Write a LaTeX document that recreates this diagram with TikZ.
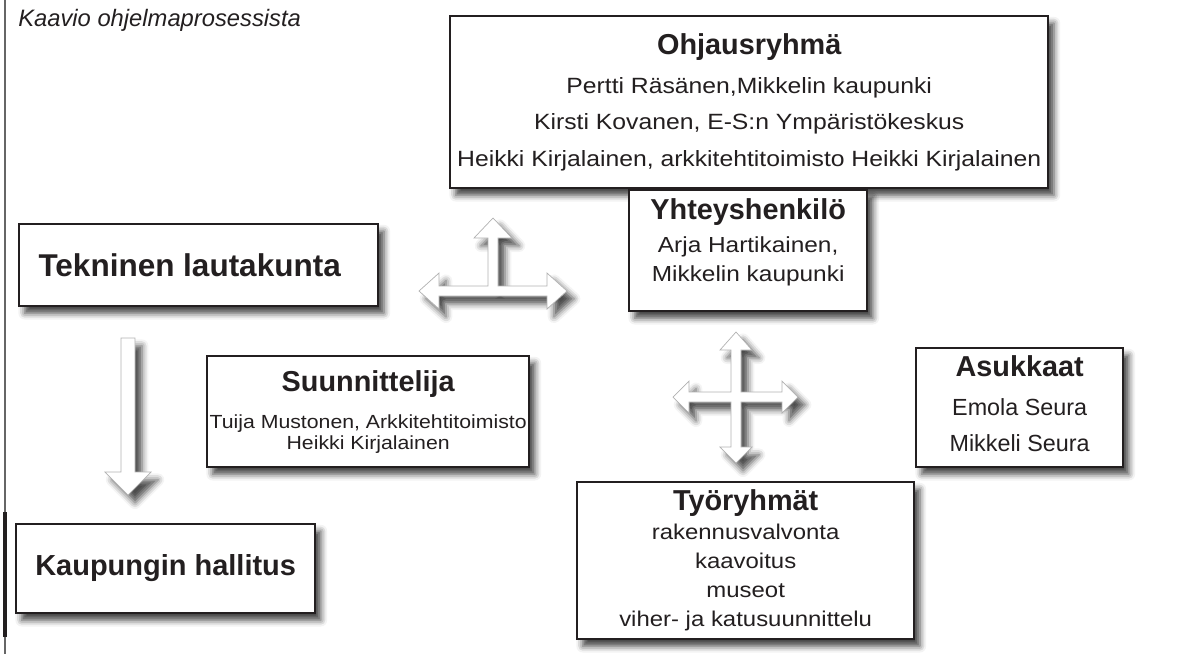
\documentclass[tikz,border=0pt]{standalone}
\usepackage{fontspec}
\setmainfont{Liberation Sans}
\newfontfamily\bodyfont{Liberation Sans}[FakeStretch=1.12]
\usetikzlibrary{shadows.blur}
\definecolor{InkGray}{RGB}{35,31,32}
\newcommand\boxtitle[1]{{\normalfont\bfseries\fontsize{20.5}{24}\selectfont #1}}
\tikzset{
  box/.style={draw=InkGray,line width=1.6pt,fill=white,anchor=north west,inner sep=0pt,
    align=center,text=InkGray,
    blur shadow={shadow xshift=4pt,shadow yshift=-5pt,shadow blur radius=4.5pt,shadow opacity=75}},
  blockarrow/.style={draw=black!30,line width=0.5pt,fill=white,
    blur shadow={shadow xshift=5pt,shadow yshift=-5.5pt,shadow blur radius=4.5pt,shadow opacity=70}},
}

\begin{document}
\begin{tikzpicture}[x=0.025cm,y=-0.025cm]
\useasboundingbox (0,0) rectangle (1198,654);
\draw[black!60,line width=1pt] (5,0) -- (5,654);
\draw[InkGray,line width=2.4pt] (5,512) -- (5,637);
\node[anchor=base west,inner sep=0pt,text=InkGray,font=\itshape\fontsize{16.9}{20}\selectfont] (cap) at (18,26) {Kaavio ohjelmaprosessista};

\draw[blockarrow,shift={(128,338)}] (-7,0) -- (7,0) -- (7,134) -- (23,134) -- (0,157)
  -- (-23,134) -- (-7,134) -- cycle;
\draw[blockarrow,shift={(493,291)}] (-74,0) -- (-54,-18) -- (-54,-5) -- (-5,-5) -- (-5,-53)
  -- (-19,-53) -- (0,-73) -- (19,-53) -- (5,-53) -- (5,-5) -- (54,-5) -- (54,-18) -- (74,0)
  -- (54,18) -- (54,5) -- (-54,5) -- (-54,18) -- cycle;
\draw[blockarrow,shift={(736,397)}] (0,-65) -- (16,-47) -- (5,-47) -- (5,-5) -- (46,-5)
  -- (46,-16) -- (62,0) -- (46,16) -- (46,5) -- (5,5) -- (5,50) -- (16,50) -- (0,66)
  -- (-16,50) -- (-5,50) -- (-5,5) -- (-47,5) -- (-47,16) -- (-63,0) -- (-47,-16)
  -- (-47,-5) -- (-5,-5) -- (-5,-47) -- (-16,-47) -- cycle;

\node[box,minimum width=14.95cm,minimum height=4.3cm,font=\bodyfont\fontsize{15.7}{25.9}\selectfont] (ohj) at (449,15)
  {\boxtitle{Ohjausryhmä}\\[1.8pt]
   Pertti Räsänen,Mikkelin kaupunki\\
   Kirsti Kovanen, E-S:n Ympäristökeskus\\
   Heikki Kirjalainen, arkkitehtitoimisto Heikki Kirjalainen};
\node[box,minimum width=5.95cm,minimum height=3.025cm,font=\bodyfont\fontsize{15.5}{20.8}\selectfont] (yht) at (628,189)
  {\boxtitle{Yhteyshenkilö}\\[2.8pt]
   Arja Hartikainen,\\
   Mikkelin kaupunki\rule[-15pt]{0pt}{0pt}};
\node[box,minimum width=8.975cm,minimum height=2.05cm,font=\bfseries\fontsize{22.4}{26}\selectfont] (tek) at (18,223)
  {Tekninen lautakunta\rule{12.8pt}{0pt}};
\node[box,minimum width=8.05cm,minimum height=2.775cm,font=\bodyfont\fontsize{13.5}{14.9}\selectfont] (suu) at (206,355)
  {\boxtitle{Suunnittelija}\\[11.3pt]
   Tuija Mustonen, Arkkitehtitoimisto\\
   Heikki Kirjalainen};
\node[box,minimum width=5.175cm,minimum height=2.975cm,font=\fontsize{16.6}{25.5}\selectfont] (asu) at (915,347)
  {\boxtitle{Asukkaat}\\[2pt]
   Emola Seura\\
   Mikkeli Seura\rule[-6pt]{0pt}{0pt}};
\node[box,minimum width=8.425cm,minimum height=3.925cm,font=\bodyfont\fontsize{15.2}{20.6}\selectfont] (tyo) at (576,481)
  {\boxtitle{Työryhmät}\\
   rakennusvalvonta\\
   kaavoitus\\
   museot\\
   viher- ja katusuunnittelu};
\node[box,minimum width=7.475cm,minimum height=2.225cm,font=\bfseries\fontsize{20.6}{24}\selectfont] (kau) at (15,523)
  {Kaupungin hallitus\rule[-5pt]{0pt}{0pt}};
\end{tikzpicture}
\end{document}
